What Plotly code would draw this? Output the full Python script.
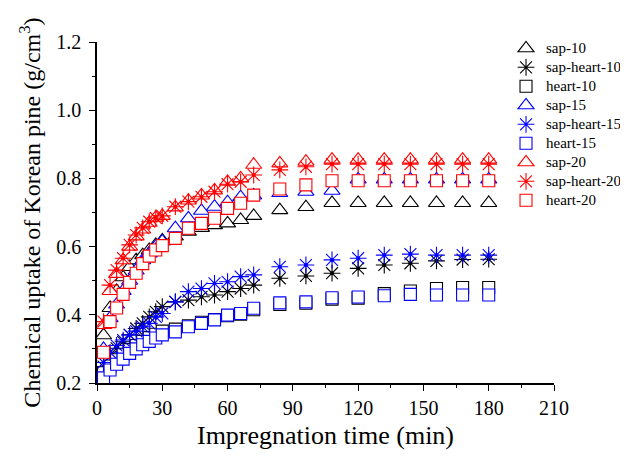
import plotly.graph_objects as go

times = [3, 6, 9, 12, 15, 18, 21, 24, 27, 30, 36, 42, 48, 54, 60, 66, 72,
         84, 96, 108, 120, 132, 144, 156, 168, 180]

sap_10 = [0.34, 0.42, 0.47, 0.51, 0.54, 0.56, 0.575, 0.59, 0.605, 0.618, 0.63, 0.644, 0.655, 0.663,
          0.668, 0.678, 0.69, 0.707, 0.716, 0.728, 0.728, 0.728, 0.728, 0.728, 0.728, 0.728]
sap_heart_10 = [0.248, 0.277, 0.302, 0.321, 0.341, 0.36, 0.375, 0.394, 0.409, 0.424, 0.438, 0.443, 0.453,
                0.458, 0.468, 0.477, 0.487, 0.507, 0.514, 0.522, 0.536, 0.546, 0.551, 0.558, 0.562, 0.563]
heart_10 = [0.23, 0.25, 0.268, 0.283, 0.298, 0.31, 0.322, 0.333, 0.343, 0.352, 0.358, 0.368, 0.378,
            0.386, 0.397, 0.402, 0.415, 0.43, 0.434, 0.446, 0.449, 0.462, 0.47, 0.477, 0.48, 0.48]
sap_15 = [0.30, 0.39, 0.43, 0.47, 0.50, 0.53, 0.56, 0.58, 0.60, 0.615, 0.654, 0.683, 0.705, 0.717,
          0.73, 0.745, 0.75, 0.757, 0.761, 0.764, 0.797, 0.797, 0.797, 0.797, 0.797, 0.797]
sap_heart_15 = [0.26, 0.29, 0.31, 0.326, 0.341, 0.352, 0.365, 0.375, 0.394, 0.404, 0.438, 0.468, 0.477,
                0.492, 0.497, 0.512, 0.517, 0.541, 0.546, 0.561, 0.566, 0.575, 0.578, 0.575, 0.575, 0.575]
heart_15 = [0.215, 0.238, 0.255, 0.27, 0.287, 0.30, 0.312, 0.322, 0.332, 0.341, 0.35, 0.365, 0.375,
            0.385, 0.399, 0.404, 0.419, 0.435, 0.438, 0.45, 0.452, 0.456, 0.46, 0.458, 0.458, 0.458]
sap_20 = [0.37, 0.47, 0.52, 0.56, 0.60, 0.63, 0.65, 0.67, 0.685, 0.69, 0.715, 0.735, 0.75, 0.765,
          0.79, 0.80, 0.84, 0.844, 0.849, 0.855, 0.855, 0.855, 0.855, 0.855, 0.855, 0.855]
sap_heart_20 = [0.38, 0.487, 0.531, 0.566, 0.605, 0.634, 0.655, 0.673, 0.684, 0.69, 0.717, 0.732, 0.746,
                0.761, 0.783, 0.79, 0.81, 0.825, 0.834, 0.842, 0.842, 0.842, 0.842, 0.842, 0.842, 0.842]
heart_20 = [0.29, 0.38, 0.42, 0.46, 0.495, 0.522, 0.55, 0.572, 0.59, 0.603, 0.624, 0.654, 0.668,
            0.683, 0.712, 0.727, 0.751, 0.769, 0.781, 0.793, 0.793, 0.793, 0.793, 0.793, 0.793, 0.793]

series = [
    ("sap-10", sap_10, "triangle-up", "#000000"),
    ("sap-heart-10", sap_heart_10, "asterisk", "#000000"),
    ("heart-10", heart_10, "square", "#000000"),
    ("sap-15", sap_15, "triangle-up", "#0000FF"),
    ("sap-heart-15", sap_heart_15, "asterisk", "#0000FF"),
    ("heart-15", heart_15, "square", "#0000FF"),
    ("sap-20", sap_20, "triangle-up", "#FF0000"),
    ("sap-heart-20", sap_heart_20, "asterisk", "#FF0000"),
    ("heart-20", heart_20, "square", "#FF0000"),
]

FONT = "Liberation Serif"
LEG_FS = 15


def leg_name(s):
    return '<span style="font-size:%dpx">%s</span>%s' % (LEG_FS, s, "&nbsp;" * 10)


fig = go.Figure()
for name, vals, sym, col in series:
    if sym == "asterisk":
        fig.add_trace(go.Scatter(
            x=times, y=vals, mode="markers", name=leg_name(name),
            marker=dict(symbol="asterisk", size=14, color=col,
                        line=dict(color=col, width=1.1))))
        fig.add_trace(go.Scatter(
            x=times, y=vals, mode="markers", showlegend=False, hoverinfo="skip",
            marker=dict(symbol="circle", size=4, color=col, line=dict(width=0))))
    else:
        size = 14 if sym == "triangle-up" else 12
        fig.add_trace(go.Scatter(
            x=times, y=vals, mode="markers", name=leg_name(name),
            marker=dict(symbol=sym, size=size, color="white",
                        line=dict(color=col, width=1.1))))

axis_common = dict(
    showline=True, linecolor="black", linewidth=1.5, mirror=False,
    ticks="outside", ticklen=6, tickwidth=1.2, tickcolor="black",
    showgrid=False, zeroline=False, automargin=False,
    tickfont=dict(family=FONT, size=20, color="black"),
)

fig.update_xaxes(
    range=[0, 210], dtick=30, tick0=0, ticklabelstandoff=0,
    minor=dict(dtick=15, ticks="outside", ticklen=3, tickcolor="black", showgrid=False),
    title=dict(text="Impregnation time (min)", font=dict(family=FONT, size=26, color="black"),
               standoff=8),
    **axis_common)
fig.update_yaxes(
    range=[0.2, 1.2], dtick=0.2, tick0=0.2, tickformat=".1f", ticklabelstandoff=4,
    minor=dict(dtick=0.1, ticks="outside", ticklen=3, tickcolor="black", showgrid=False),
    title=dict(text="Chemical uptake of Korean pine (g/cm<sup>3</sup>)",
               font=dict(family=FONT, size=24, color="black"), standoff=9),
    **axis_common)

fig.update_layout(
    width=628, height=463,
    margin=dict(l=89, r=82, t=34, b=88, autoexpand=False),
    paper_bgcolor="white", plot_bgcolor="white",
    showlegend=True,
    legend=dict(x=0.895, y=1.024, xanchor="left", yanchor="top",
                font=dict(family=FONT, size=11, color="black"),
                bgcolor="rgba(0,0,0,0)", itemwidth=30, tracegroupgap=0),
)

fig.write_html("out.html")
